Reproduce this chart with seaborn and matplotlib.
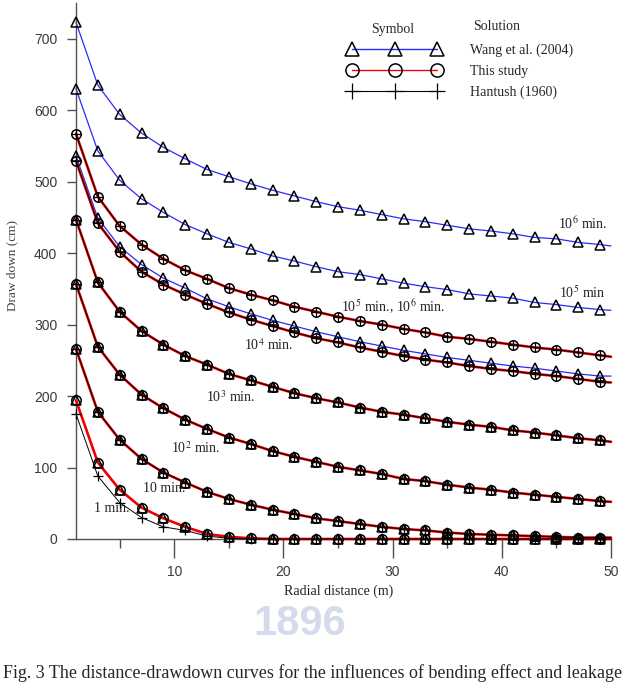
import numpy as np
import matplotlib.pyplot as plt
import seaborn as sns
from matplotlib.lines import Line2D
from matplotlib.ticker import FixedLocator

# radial distances of the plotted points (m), and where the curves stop
r = np.arange(1, 50, 2)
r_end = 50

# drawdown (cm)
wang_1e6 = [723, 635, 594, 568, 548, 532, 517, 507, 497, 488, 480, 472, 465,
            460, 454, 448, 444, 439, 434, 431, 427, 422, 420, 415, 412]
wang_1e5 = [630, 543, 502, 476, 457, 440, 427, 415, 406, 396, 389, 381, 374,
            370, 364, 358, 353, 349, 343, 340, 337, 331, 328, 324, 321]
wang_1e4 = [536, 449, 409, 384, 365, 351, 336, 325, 315, 306, 298, 290, 283,
            276, 270, 264, 259, 254, 250, 246, 242, 239, 235, 231, 228]
study_ss = [567, 479, 438, 412, 392, 376, 364, 351, 342, 334, 325, 318, 311,
            305, 300, 294, 289, 283, 280, 276, 272, 268, 265, 261, 257]
study_1e4 = [529, 442, 402, 374, 356, 342, 329, 317, 307, 298, 289, 281, 275,
             268, 262, 256, 251, 247, 242, 238, 235, 231, 228, 224, 220]
study_1e3 = [447, 359, 318, 291, 272, 256, 244, 231, 222, 213, 204, 197, 191,
             184, 178, 174, 169, 164, 160, 157, 152, 149, 145, 141, 138]
study_1e2 = [357, 269, 230, 202, 183, 167, 154, 142, 133, 123, 115, 108, 101,
             96, 91, 84, 81, 76, 72, 69, 65, 62, 59, 56, 53]
study_10 = [266, 178, 139, 112, 93, 79, 66, 56, 48, 41, 35, 29, 25,
            21, 17, 14, 12, 9, 7, 6, 5, 4, 3, 2, 2]
study_1 = [194, 107, 69, 44, 29, 17, 7, 3, 1, 0, 0, 0, 0,
           0, 0, 0, 0, 0, 0, 0, 0, 0, 0, 0, 0]
hantush_1 = [175, 88, 51, 30, 17, 12, 4, 1, 0, 0, 0, 0, 0,
             0, 0, 0, 0, 0, 0, 0, 0, 0, 0, 0, 0]

# value of each curve at r = 50 m (right edge)
end_vals = {'wang_1e6': 410, 'wang_1e5': 320, 'wang_1e4': 228, 'study_ss': 255,
            'study_1e4': 219, 'study_1e3': 136, 'study_1e2': 52, 'study_10': 2,
            'study_1': 0, 'hantush_1': 0}

series = {'wang_1e6': wang_1e6, 'wang_1e5': wang_1e5, 'wang_1e4': wang_1e4,
          'study_ss': study_ss, 'study_1e4': study_1e4, 'study_1e3': study_1e3,
          'study_1e2': study_1e2, 'study_10': study_10, 'study_1': study_1,
          'hantush_1': hantush_1}

# which curves belong to which solution
wang_curves = ['wang_1e6', 'wang_1e5', 'wang_1e4', 'study_1e3', 'study_1e2', 'study_10', 'study_1']
study_curves = ['study_ss', 'study_1e4', 'study_1e3', 'study_1e2', 'study_10', 'study_1']
hantush_curves = ['study_ss', 'study_1e4', 'study_1e3', 'study_1e2', 'study_10', 'hantush_1']

time_labels = [r'10$^{6}$ min.', r'10$^{5}$ min', r'10$^{5}$ min., 10$^{6}$ min.',
               r'10$^{4}$ min.', r'10$^{3}$ min.', r'10$^{2}$ min.', '10 min.', '1 min.']
label_pos = [(45.1, 441), (45.2, 344), (25.3, 325), (16.4, 272),
             (12.9, 199), (9.7, 127), (7.1, 71), (2.65, 43)]

solutions = ['Wang et al. (2004)', 'This study', 'Hantush (1960)']

BLUE = '#2a2aff'
RED = '#f00000'

sns.set_style('ticks')
plt.rcParams['font.family'] = ['Liberation Serif', 'DejaVu Serif']
plt.rcParams['mathtext.fontset'] = 'stix'

fig = plt.figure(figsize=(6.25, 6.9), dpi=100)
ax = fig.add_axes([76 / 625, 1 - 539 / 690, 535 / 625, 536 / 690])


def line_of(name):
    return np.append(r, r_end), series[name] + [end_vals[name]]


# lines
for name in wang_curves:
    x, y = line_of(name)
    sns.lineplot(x=x, y=y, ax=ax, color=BLUE, lw=0.9, sort=False,
                 estimator=None, legend=False, clip_on=False, zorder=2)
for name in study_curves:
    x, y = line_of(name)
    sns.lineplot(x=x, y=y, ax=ax, color=RED, lw=1.9, sort=False,
                 estimator=None, legend=False, clip_on=False, zorder=3)
for name in hantush_curves:
    x, y = line_of(name)
    sns.lineplot(x=x, y=y, ax=ax, color='black', lw=0.7, sort=False,
                 estimator=None, legend=False, clip_on=False, zorder=4)

# markers
for name in wang_curves:
    ax.plot(r, series[name], ls='none', marker='^', ms=6.5, mfc='none',
            mec='black', mew=1.1, clip_on=False, zorder=5)
for name in study_curves:
    ax.plot(r, series[name], ls='none', marker='o', ms=6.8, mfc='none',
            mec='black', mew=1.1, clip_on=False, zorder=5)
for name in hantush_curves:
    ax.plot(r, series[name], ls='none', marker='+', ms=7.5,
            mec='black', mew=0.9, clip_on=False, zorder=5)

for txt, (tx, ty) in zip(time_labels, label_pos):
    ax.text(tx, ty, txt, fontsize=10, ha='left', va='center', color='#222222')

ax.set_xlim(1, 50)
ax.set_ylim(0, 750)
sns.despine(ax=ax)
for side in ['left', 'bottom']:
    ax.spines[side].set_color('#505050')
    ax.spines[side].set_linewidth(1)

ax.yaxis.set_major_locator(FixedLocator(range(0, 701, 100)))
ax.yaxis.set_minor_locator(FixedLocator([0, 200, 400, 600, 700]))
ax.xaxis.set_major_locator(FixedLocator([10, 20, 30, 40, 50]))
ax.xaxis.set_minor_locator(FixedLocator([5, 15, 25, 35, 45]))
ax.tick_params(axis='y', which='major', length=6.5, width=1, pad=7, color='#505050')
ax.tick_params(axis='y', which='minor', length=13.7, width=1, color='#505050')
ax.tick_params(axis='x', which='major', length=13.7, width=1, pad=5, color='#505050')
ax.tick_params(axis='x', which='minor', length=6.5, width=1, color='#505050')
for lab in ax.get_xticklabels() + ax.get_yticklabels():
    lab.set_family('Liberation Sans')
    lab.set_fontsize(10)
    lab.set_color('#3a3a3a')

ax.set_ylabel('Draw down (cm)', fontsize=9.5, color='#444444')
ax.yaxis.set_label_coords(-0.108, 0.51)
ax.set_xlabel('Radial distance (m)', fontsize=10, color='#222222')
ax.xaxis.set_label_coords(0.49, -0.084)

# legend
handles = [
    Line2D([], [], color=BLUE, lw=1, marker='^', ms=9.5, mfc='none', mec='black', mew=1.1),
    Line2D([], [], color=RED, lw=1, marker='o', ms=9.5, mfc='none', mec='black', mew=1.1),
    Line2D([], [], color='black', lw=0.8, marker='+', ms=12, mec='black', mew=0.9),
]
ax.legend(handles, solutions, numpoints=3, handlelength=6.7, handletextpad=2.1,
          frameon=False, loc='upper left', bbox_to_anchor=(348 / 625, 1 - 44 / 690),
          bbox_transform=fig.transFigure, borderpad=0, borderaxespad=0,
          labelspacing=0.55, fontsize=10)
fig.text(393 / 625, 1 - 29 / 690, 'Symbol', fontsize=10, ha='center', va='center')
fig.text(473 / 625, 1 - 27 / 690, 'Solution', fontsize=10, ha='left', va='center')

# faint watermark and caption
fig.text(0.48, 1 - 624 / 690, '1896', fontsize=30, weight='bold', color='#d5dbec',
         family='Liberation Sans', ha='center', va='center', zorder=-1)
fig.text(0.5, 1 - 673 / 690,
         'Fig. 3 The distance-drawdown curves for the influences of bending effect and leakage',
         fontsize=13, ha='center', va='center')

fig.savefig('out.png', dpi=100)
